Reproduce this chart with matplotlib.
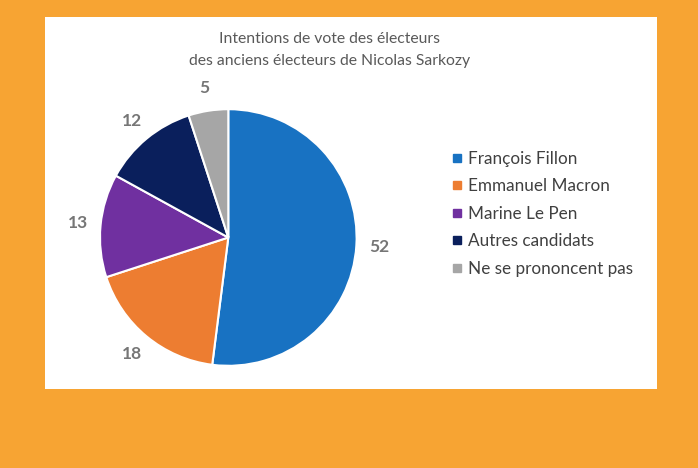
import matplotlib
matplotlib.use("Agg")
import matplotlib.pyplot as plt
from matplotlib.patches import Rectangle
from matplotlib.lines import Line2D

categories = ["François Fillon", "Emmanuel Macron", "Marine Le Pen",
              "Autres candidats", "Ne se prononcent pas"]
values = [52, 18, 13, 12, 5]
colors = ["#1872C2", "#ED7D31", "#7030A0", "#0A1F5C", "#A6A6A6"]
title = "Intentions de vote des électeurs\ndes anciens électeurs de Nicolas Sarkozy"

plt.rcParams['font.family'] = ['Lato', 'DejaVu Sans']

W, H = 698, 468
fig = plt.figure(figsize=(W/100, H/100), dpi=100)
fig.patch.set_facecolor("#F7A433")
bg = Rectangle((45/W, 1-389/H), 612/W, 372/H, transform=fig.transFigure,
               facecolor="white", edgecolor="none", zorder=-10)
fig.add_artist(bg)

cx, cy, r = 228.3, 237.5, 128.3
half = 1.5 * r
ax = fig.add_axes([(cx-half)/W, (H-cy-half)/H, 2*half/W, 2*half/H])
ax.set_zorder(1)
ax.patch.set_alpha(0)

wedges, texts = ax.pie(values, colors=colors, startangle=90, counterclock=False,
                       labels=[str(v) for v in values], labeldistance=1.18,
                       wedgeprops=dict(edgecolor="white", linewidth=1.5),
                       textprops=dict(color="#767676", fontsize=12.5, fontweight="bold"),
                       radius=1.0)
for t in texts:
    t.set_ha("center"); t.set_va("center")
ax.set_xlim(-1.5, 1.5); ax.set_ylim(-1.5, 1.5)
ax.set_aspect("equal")
ax.axis("off")

fig.text(329.5/W, 1-50/H, title, ha="center", va="center", fontsize=11.3,
         color="#595959", linespacing=1.7)

handles = [Line2D([], [], marker="s", linestyle="none", markersize=6,
                  markerfacecolor=c, markeredgecolor=c) for c in colors]
leg = fig.legend(handles, categories, loc="upper left",
                 bbox_to_anchor=(442/W, 1-142/H), frameon=False,
                 fontsize=12.3, labelcolor="#404040", handlelength=0.7,
                 handletextpad=0.35, labelspacing=0.68, borderpad=0)

fig.savefig("out.png", dpi=100, facecolor=fig.get_facecolor())
